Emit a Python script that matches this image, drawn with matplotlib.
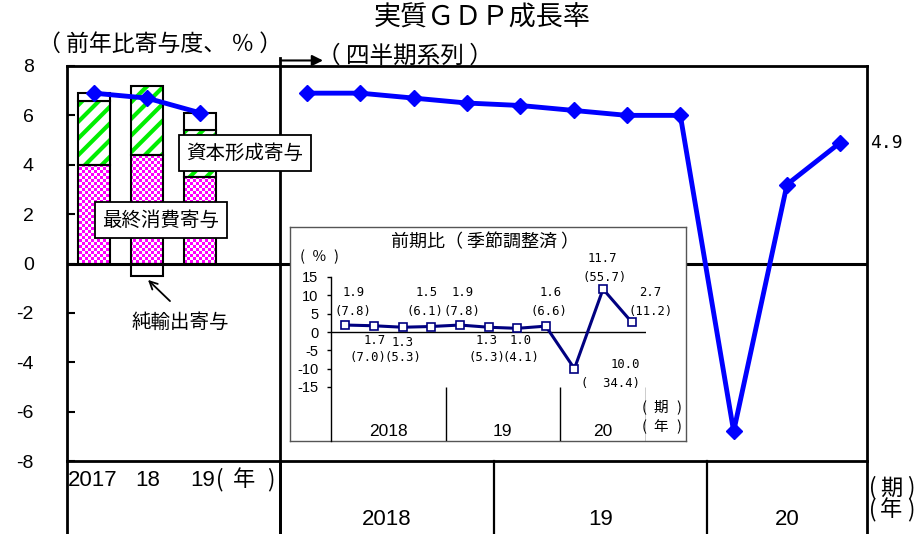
import numpy as np
import matplotlib
matplotlib.use("Agg")
import matplotlib.pyplot as plt
from matplotlib.lines import Line2D

plt.rcParams['font.family'] = ['Liberation Sans', 'Noto Sans CJK JP', 'DejaVu Sans']
plt.rcParams['axes.unicode_minus'] = False
plt.rcParams['hatch.linewidth'] = 3.0

# ---------------- data ----------------
years = ['2017', '18', '19']
consumption = [4.0, 4.4, 3.5]
capital = [2.6, 2.8, 1.9]
net_exports = [0.3, -0.5, 0.7]
annual_gdp = [6.9, 6.7, 6.1]

quarter_years = ['2018', '19', '20']
quarters_per_year = [4, 4, 3]
quarterly_gdp = [6.9, 6.9, 6.7, 6.5, 6.4, 6.2, 6.0, 6.0, -6.8, 3.2, 4.9]

qoq = [1.9, 1.7, 1.3, 1.5, 1.9, 1.3, 1.0, 1.6, -10.0, 11.7, 2.7]
qoq_labels = ['1.9', '1.7', '1.3', '1.5', '1.9', '1.3', '1.0', '1.6', '10.0', '11.7', '2.7']
ann_labels = ['(7.8)', '(7.0)', '(5.3)', '(6.1)', '(7.8)', '(5.3)', '(4.1)', '(6.6)',
              '(  34.4)', '(55.7)', '(11.2)']
inset_yticks = [15, 10, 5, 0, -5, -10, -15]
main_yticks = [8, 6, 4, 2, 0, -2, -4, -6, -8]

W, H = 922, 534
def fx(x): return x / W
def fy(y): return 1 - y / H

CJK = ['Noto Sans CJK JP']

def spaced(chars, xs, y, size):
    for ch, xc in zip(chars, xs):
        fig.text(fx(xc), fy(y), ch, fontsize=size, ha='center', va='center', family=CJK)

fig = plt.figure(figsize=(W / 100, H / 100), dpi=100)

# ---------------- main axes ----------------
ax_l, ax_r, ax_t, ax_b = 67, 867, 66, 461
ax = fig.add_axes([fx(ax_l), fy(ax_b), (ax_r - ax_l) / W, (ax_b - ax_t) / H])
n_left = len(years) + 1
n_q = len(quarterly_gdp)
xmax = n_left + n_q
ax.set_xlim(0, xmax)
ax.set_ylim(-8, 8)

xa = np.arange(len(years)) + 0.5
cons = np.array(consumption)
capf = np.array(capital)
netx = np.array(net_exports)
bw = 0.6

# consumption: checkerboard clipped to bars
cons_bars = ax.bar(xa, cons, bw, facecolor='none', edgecolor='none', zorder=1)
pw = int(round((ax_r - ax_l))); ph = int(round((ax_b - ax_t)))
yy, xx = np.indices((ph, pw))
chk = ((yy // 3 + xx // 3) % 2).astype(float)
rgb = np.ones((ph, pw, 3))
rgb[chk == 0] = [1.0, 0.0, 1.0]
for p in cons_bars:
    im = ax.imshow(rgb, extent=(0, xmax, -8, 8), aspect='auto', interpolation='nearest', zorder=1)
    im.set_clip_path(p)
ax.bar(xa, cons, bw, facecolor='none', edgecolor='black', linewidth=1.5, zorder=3)

# capital formation: green stripes
ax.bar(xa, capf, bw, bottom=cons, facecolor='white', edgecolor='#00ee00', hatch='//',
       linewidth=0, zorder=2)
ax.bar(xa, capf, bw, bottom=cons, facecolor='none', edgecolor='black', linewidth=1.5, zorder=3)

# net exports: white
nb = np.where(netx >= 0, cons + capf, 0)
ax.bar(xa, netx, bw, bottom=nb, facecolor='white', edgecolor='black', linewidth=1.5, zorder=3)

ax.axhline(0, color='black', lw=2.2, zorder=4)

ax.plot(xa, annual_gdp, color='#0000ff', lw=3.5, marker='D', ms=8.5, zorder=5)
xq = np.arange(n_q) + n_left + 0.5
ax.plot(xq, quarterly_gdp, color='#0000ff', lw=3.5, marker='D', ms=8.5, zorder=5)

ax.set_xticks([])
ax.set_yticks(main_yticks)
ax.set_yticklabels([str(t) for t in main_yticks])
ax.tick_params(axis='y', direction='in', length=6, width=1.5, labelsize=14, pad=24)
for s in ax.spines.values():
    s.set_linewidth(2.0)

xt = ax.get_xaxis_transform()
# divider between annual and quarterly panels
ax.add_line(Line2D([n_left, n_left], [-0.2, 1.02], transform=xt, color='black', lw=2.0, clip_on=False))
# bottom table separators
bounds = np.concatenate([[0, n_left], n_left + np.cumsum(quarters_per_year)])
for b in bounds:
    lw = 2.0 if b in (0, n_left, xmax) else 1.6
    ax.add_line(Line2D([b, b], [-0.2, 0], transform=xt, color='black', lw=lw, clip_on=False))

# arrow + quarterly series note
ax.annotate('', xy=(n_left + 0.8, 1.014), xytext=(n_left, 1.014), xycoords=xt, textcoords=xt,
            arrowprops=dict(arrowstyle='-|>', lw=1.5, color='black', mutation_scale=16,
                            shrinkA=0, shrinkB=0))
fig.text(fx(317), fy(56), '（ 四半期系列 ）', fontsize=17, ha='left', va='center', family=CJK)

# titles
fig.text(fx(482), fy(18), '実質ＧＤＰ成長率', fontsize=19.5, ha='center', va='center', family=CJK)
fig.text(fx(160), fy(44), '（ 前年比寄与度、 ％ ）', fontsize=16.5, ha='center', va='center',
         family=CJK)

# annotations
box = dict(boxstyle='square,pad=0.4', facecolor='white', edgecolor='black', lw=1.3)
fig.text(fx(245), fy(153), '資本形成寄与', fontsize=14, ha='center', va='center',
         family=CJK, zorder=6, bbox=box)
fig.text(fx(161), fy(220), '最終消費寄与', fontsize=14, ha='center', va='center',
         family=CJK, zorder=6, bbox=box)
fig.text(fx(180), fy(322), '純輸出寄与', fontsize=14, ha='center', va='center', family=CJK)
fig.add_artist(matplotlib.patches.FancyArrowPatch((fx(172), fy(303)), (fx(146), fy(278)),
               transform=fig.transFigure, arrowstyle='->', mutation_scale=14, lw=1.3, color='black'))

# labels under axes
lx = [68, 135, 190]
for x, t in zip(lx, years):
    fig.text(fx(x), fy(480), t, fontsize=16, ha='left', va='center')
spaced(['(', '年', ')'], [220, 244, 271], 480, 16)

qb = n_left + np.concatenate([[0], np.cumsum(quarters_per_year)])
for i, t in enumerate(quarter_years):
    xc = (qb[i] + qb[i + 1]) / 2
    ax.text(xc, -0.148, t, transform=xt, fontsize=16, ha='center', va='center', clip_on=False)

spaced(['(', '期', ')'], [873, 891, 911], 488, 16)
spaced(['(', '年', ')'], [873, 891, 911], 510, 16)

fig.text(fx(870), fy(143), f'{quarterly_gdp[-1]:.1f}', fontsize=13, ha='left', va='center',
         family=['DejaVu Sans Mono'])

# ---------------- inset ----------------
bg = fig.add_axes([fx(290), fy(441), (686 - 290) / W, (441 - 227) / H])
bg.set_xticks([]); bg.set_yticks([])
bg.set_facecolor('white')
for s in bg.spines.values():
    s.set_edgecolor('#555555'); s.set_linewidth(1.0)

i_l, i_r, i_t, i_b = 331, 646, 277, 441
ppu = (387 - 277) / 30.0
ybot = -15 - (i_b - 387) / ppu
ia = fig.add_axes([fx(i_l), fy(i_b), (i_r - i_l) / W, (i_b - i_t) / H])
ia.set_facecolor('none')
ia.set_xlim(0, n_q)
ia.set_ylim(ybot, 15)
for k in ['top', 'right', 'bottom']:
    ia.spines[k].set_visible(False)
ia.spines['left'].set_linewidth(1.0)
ia.set_xticks([])
ia.set_yticks(inset_yticks)
ia.set_yticklabels([str(t) for t in inset_yticks])
ia.spines['left'].set_bounds(ybot, 15)
ia.tick_params(axis='y', direction='out', length=3, width=1, labelsize=10.5, pad=6)
ia.hlines(0, 0, n_q, color='black', lw=1.0)
ib = np.cumsum(quarters_per_year)
ia.vlines(ib, ybot, -15, color='black', lw=1.0)
xi = np.arange(n_q) + 0.5
ia.plot(xi, qoq, color='#000080', lw=2.2, marker='s', ms=5.5, mfc='white', mec='#000080', mew=1.2)

qlab_pos = [(354, 293), (375, 340), (403, 343), (427, 293), (463, 293), (487, 340),
            (521, 340), (551, 293), (625, 365), (602, 258), (650, 293)]
alab_pos = [(353, 312), (368, 358), (403, 358), (425, 312), (462, 312), (487, 358),
            (521, 358), (549, 312), (610, 383), (605, 277), (651, 312)]
for (x, y), t in zip(qlab_pos, qoq_labels):
    fig.text(fx(x), fy(y), t, fontsize=8.8, ha='center', va='center', family=['DejaVu Sans Mono'])
for (x, y), t in zip(alab_pos, ann_labels):
    fig.text(fx(x), fy(y), t, fontsize=8.8, ha='center', va='center', family=['DejaVu Sans Mono'])

fig.text(fx(485), fy(242), '前期比（ 季節調整済 ）', fontsize=13, ha='center', va='center',
         family=CJK)
spaced(['(', '％', ')'], [302, 319, 336], 257, 10.5)
spaced(['(', '期', ')'], [644, 661, 679], 408, 10.5)
spaced(['(', '年', ')'], [644, 661, 679], 427, 10.5)
ib0 = np.concatenate([[0], ib])
for i, t in enumerate(quarter_years):
    ia.text((ib0[i] + ib0[i + 1]) / 2, ybot + (441 - 432) / ppu, t, fontsize=12.5,
            ha='center', va='center')

fig.savefig('out.png', dpi=100)
